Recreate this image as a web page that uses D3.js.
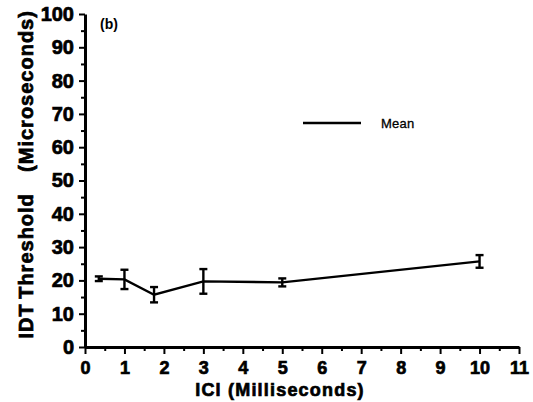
<!DOCTYPE html>
<html>
<head>
<script src="https://d3js.org/d3.v7.min.js"></script>
<style>
  body { margin: 0; background: #fff; }
  text { font-family: "Liberation Sans", Arial, sans-serif; }
  .heavy { stroke: #000; stroke-width: 0.7px; }
</style>
</head>
<body>
<svg id="chart" width="533" height="402"></svg>
<script>
// ICI values (ms), mean IDT threshold (us) and error bar half-heights
var ici = [0.35, 1, 1.75, 3, 5, 10];
var meanIdt = [20.5, 20.3, 15.7, 19.7, 19.4, 25.7];
var errIdt = [0.7, 2.9, 2.3, 3.7, 1.2, 1.9];

var xTicks = [0, 1, 2, 3, 4, 5, 6, 7, 8, 9, 10, 11];
var yTicks = [0, 10, 20, 30, 40, 50, 60, 70, 80, 90, 100];

var svg = d3.select("#chart");

var x = d3.scaleLinear().domain([0, 11]).range([85, 519]);
var y = d3.scaleLinear().domain([0, 100]).range([347, 14]);

// minor ticks first (halves / fives)
svg.append("g")
  .attr("transform", "translate(0,347)")
  .call(d3.axisBottom(x).tickValues(d3.range(0.5, 11, 1)).tickSize(4).tickFormat(""))
  .call(g => g.select(".domain").remove())
  .selectAll("line").attr("stroke-width", 2);

svg.append("g")
  .attr("transform", "translate(85,0)")
  .call(d3.axisLeft(y).tickValues(d3.range(5, 100, 10)).tickSize(4).tickFormat(""))
  .call(g => g.select(".domain").remove())
  .selectAll("line").attr("stroke-width", 2);

// x axis
var xg = svg.append("g")
  .attr("transform", "translate(0,347)")
  .call(d3.axisBottom(x).tickValues(xTicks).tickSize(7).tickSizeOuter(0).tickPadding(7));
xg.select(".domain").attr("stroke-width", 3);
xg.selectAll("line").attr("stroke-width", 2);
xg.selectAll("text")
  .attr("class", "heavy")
  .attr("font-size", 18).attr("font-weight", "bold").attr("fill", "#000");

// y axis
var yg = svg.append("g")
  .attr("transform", "translate(85,0)")
  .call(d3.axisLeft(y).tickValues(yTicks).tickSize(6).tickSizeOuter(0).tickPadding(5));
yg.select(".domain").attr("stroke-width", 3);
yg.selectAll("line").attr("stroke-width", 2);
yg.selectAll("text")
  .attr("class", "heavy")
  .attr("font-size", 20).attr("font-weight", "bold").attr("fill", "#000");

// axis titles
svg.append("text")
  .attr("class", "heavy")
  .attr("x", 280).attr("y", 396)
  .attr("text-anchor", "middle")
  .attr("font-size", 18).attr("font-weight", "bold")
  .attr("letter-spacing", 1.2)
  .text("ICI (Milliseconds)");

var yTitle = [["IDT", 321], ["Threshold", 246], ["(Microseconds)", 91]];
svg.selectAll("text.ytitle")
  .data(yTitle)
  .enter().append("text")
    .attr("class", "ytitle heavy")
    .attr("transform", function(d){ return "translate(33," + d[1] + ") rotate(-90)" })
    .attr("text-anchor", "middle")
    .attr("font-size", 20).attr("font-weight", "bold")
    .attr("letter-spacing", 1)
    .text(function(d){ return d[0] });

svg.append("text")
  .attr("x", 100).attr("y", 29)
  .attr("font-size", 14).attr("font-weight", "bold")
  .text("(b)");

// mean line
var pts = ici.map(function(d, i){ return [d, meanIdt[i], errIdt[i]] });

svg.append("path")
  .datum(pts)
  .attr("fill", "none")
  .attr("stroke", "#000")
  .attr("stroke-width", 2.4)
  .attr("d", d3.line().x(function(d){ return x(d[0]) }).y(function(d){ return y(d[1]) }));

// error bars
var eb = svg.append("g").attr("stroke", "#000").attr("stroke-width", 2.4);
eb.selectAll("line.v").data(pts).enter().append("line")
  .attr("x1", function(d){ return x(d[0]) }).attr("x2", function(d){ return x(d[0]) })
  .attr("y1", function(d){ return y(d[1] - d[2]) }).attr("y2", function(d){ return y(d[1] + d[2]) });
[-1, 1].forEach(function(s){
  eb.selectAll("line.c" + s).data(pts).enter().append("line")
    .attr("x1", function(d){ return x(d[0]) - 4 }).attr("x2", function(d){ return x(d[0]) + 4 })
    .attr("y1", function(d){ return y(d[1] + s * d[2]) }).attr("y2", function(d){ return y(d[1] + s * d[2]) });
});

// legend
svg.append("line")
  .attr("x1", 303).attr("x2", 361).attr("y1", 123).attr("y2", 123)
  .attr("stroke", "#000").attr("stroke-width", 2.4);
svg.append("text")
  .attr("x", 381).attr("y", 128)
  .attr("font-size", 13)
  .attr("stroke", "#000").attr("stroke-width", 0.3)
  .attr("letter-spacing", 0.2)
  .text("Mean");
</script>
</body>
</html>
